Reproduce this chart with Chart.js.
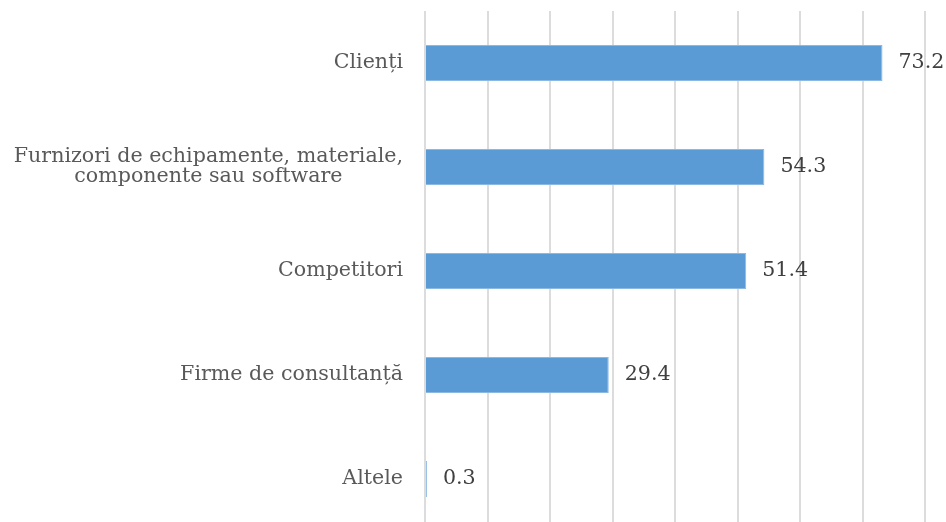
<!DOCTYPE html>
<html>
<head>
<meta charset="utf-8">
<script src="https://cdn.jsdelivr.net/npm/chart.js@4"></script>
<style>
  html, body { margin: 0; padding: 0; background: #fff; overflow: hidden; }
  canvas { display: block; }
</style>
</head>
<body>
<canvas id="chart" width="946" height="531"></canvas>
<script>
// categories, top to bottom
const categories = [
  'Clienți',
  ['Furnizori de echipamente, materiale,', 'componente sau software'],
  'Competitori',
  'Firme de consultanță',
  'Altele'
];
const values = [73.2, 54.3, 51.4, 29.4, 0.3];
const xTicks = [0, 10, 20, 30, 40, 50, 60, 70, 80];

const labelFont = '20.6px "DejaVu Serif"';

// draws the category names left of the bars and the values after them
const labelsPlugin = {
  id: 'labels',
  afterDatasetsDraw(chart) {
    const ctx = chart.ctx;
    const yScale = chart.scales.y;
    const area = chart.chartArea;
    ctx.save();
    ctx.font = labelFont;
    ctx.textBaseline = 'middle';

    // category labels
    ctx.fillStyle = '#595959';
    categories.forEach((cat, i) => {
      const lines = Array.isArray(cat) ? cat : [cat];
      const y = yScale.getPixelForValue(i);
      const widest = Math.max(...lines.map(l => ctx.measureText(l).width));
      const right = area.left - 22;
      const lh = 20;
      ctx.textAlign = 'center';
      lines.forEach((l, j) => {
        const ly = y + (j - (lines.length - 1) / 2) * lh;
        ctx.fillText(l, right - widest / 2, ly);
      });
    });

    // value labels
    ctx.fillStyle = '#404040';
    ctx.textAlign = 'left';
    chart.getDatasetMeta(0).data.forEach((bar, i) => {
      ctx.fillText(values[i].toFixed(1), bar.x + 16, bar.y);
    });
    ctx.restore();
  }
};

new Chart(document.getElementById('chart'), {
  type: 'bar',
  data: {
    labels: categories.map(c => Array.isArray(c) ? c.join(' ') : c),
    datasets: [{
      data: values,
      backgroundColor: '#5b9bd5',
      borderColor: '#8cb9e2',
      borderWidth: 1,
      barPercentage: 0.347,
      categoryPercentage: 1
    }]
  },
  options: {
    indexAxis: 'y',
    responsive: false,
    animation: false,
    layout: { padding: { left: 425, right: 21, top: 11, bottom: 0 } },
    plugins: {
      legend: { display: false },
      tooltip: { enabled: false }
    },
    scales: {
      x: {
        min: 0,
        max: 80,
        afterBuildTicks: scale => { scale.ticks = xTicks.map(v => ({ value: v })); },
        ticks: { display: false },
        border: { display: false },
        grid: { color: '#dcdcdc', lineWidth: 2, drawTicks: false }
      },
      y: {
        display: false
      }
    }
  },
  plugins: [labelsPlugin]
});
</script>
</body>
</html>
